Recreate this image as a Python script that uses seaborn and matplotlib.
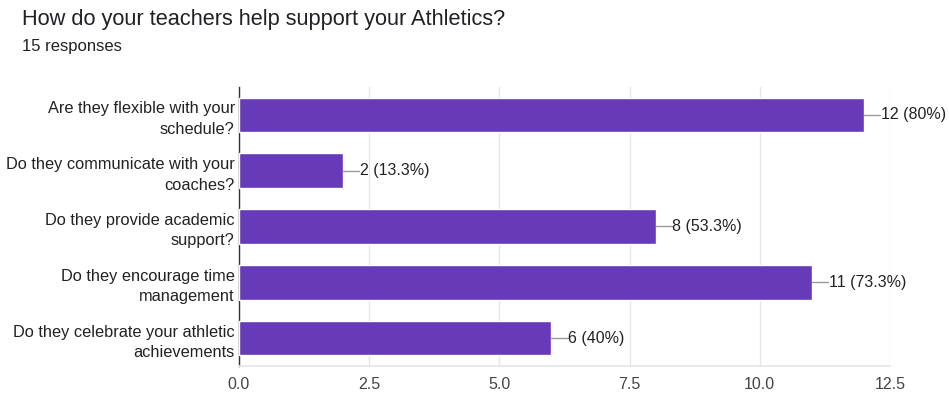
import matplotlib
matplotlib.use("Agg")
import matplotlib.pyplot as plt
import seaborn as sns
import pandas as pd

categories = [
    "Are they flexible with your\nschedule?",
    "Do they communicate with your\ncoaches?",
    "Do they provide academic\nsupport?",
    "Do they encourage time\nmanagement",
    "Do they celebrate your athletic\nachievements",
]
counts = [12, 2, 8, 11, 6]
labels = ["12 (80%)", "2 (13.3%)", "8 (53.3%)", "11 (73.3%)", "6 (40%)"]
xticks = [0.0, 2.5, 5.0, 7.5, 10.0, 12.5]

sns.set_theme(style="white")
plt.rcParams["font.family"] = ["Liberation Sans", "DejaVu Sans"]

df = pd.DataFrame({"category": categories, "count": counts})

fig = plt.figure(figsize=(9.49, 3.96), dpi=100)
ax = fig.add_axes([0.2518, 0.0758, 0.686, 0.7045])

sns.barplot(data=df, y="category", x="count", orient="h", color="#673AB7",
            saturation=1, width=0.62, ax=ax, zorder=3)

ax.set_xlim(0, 12.5)
ax.set_xticks(xticks)
ax.set_xticklabels([f"{t:.1f}" for t in xticks], fontsize=11.5, color="#444444")
ax.set_ylim(4.5, -0.5)
ax.set_xlabel("")
ax.set_ylabel("")
ax.tick_params(axis="y", labelsize=11.8, colors="#222222", length=0, pad=3)
ax.tick_params(axis="x", length=0, pad=8)
for lbl in ax.get_yticklabels():
    lbl.set_horizontalalignment("right")
    lbl.set_linespacing(1.45)

ax.grid(axis="x", color="#e6e6e6", linewidth=1, zorder=0)
for s in ["top", "right"]:
    ax.spines[s].set_visible(False)
ax.spines["bottom"].set_color("#e6e6e6")
ax.spines["left"].set_color("#333333")
ax.spines["left"].set_linewidth(1.0)

for i, (v, t) in enumerate(zip(counts, labels)):
    ax.plot([v, v + 0.31], [i, i], color="#999999", linewidth=1, zorder=4,
            clip_on=False)
    ax.text(v + 0.32, i, t, va="center", ha="left", fontsize=11.5,
            color="#222222", zorder=5)

fig.text(22 / 949, 1 - 20 / 396, "How do your teachers help support your Athletics?",
         fontsize=15.7, color="#202124", va="center", ha="left")
fig.text(22 / 949, 1 - 47 / 396, "15 responses", fontsize=12, color="#202124",
         va="center", ha="left")

fig.savefig("out.png", dpi=100)
